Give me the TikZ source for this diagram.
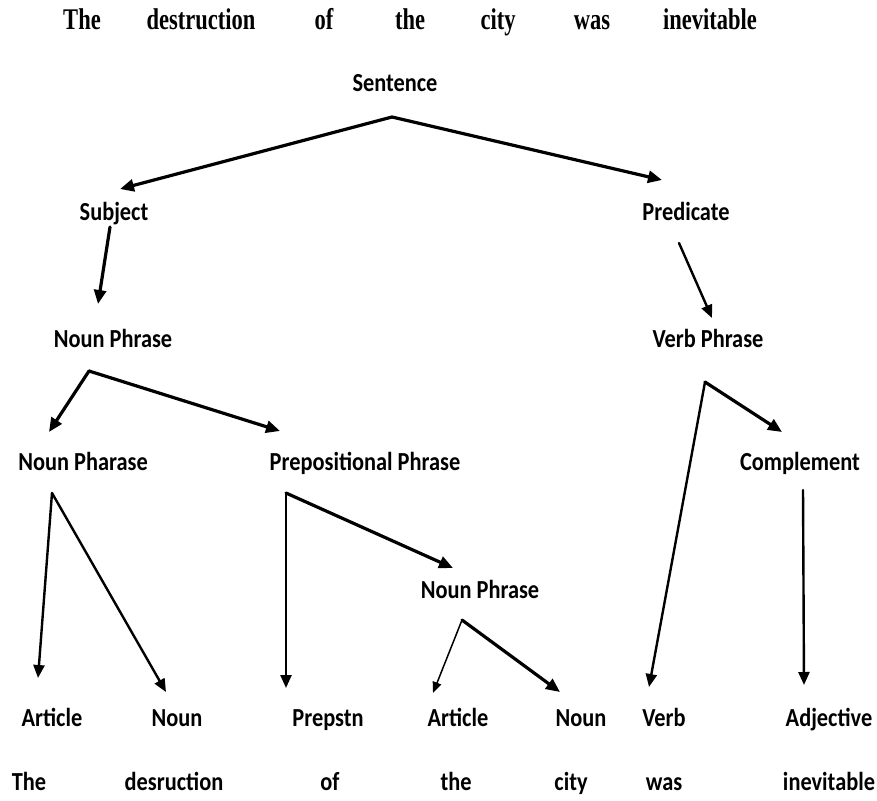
\documentclass[tikz,border=0pt]{standalone}
\usepackage{fontspec}
\newfontfamily\labfont[FakeStretch=0.86]{Carlito}
\newfontfamily\topfont[FakeStretch=0.75]{Liberation Serif}
\usetikzlibrary{arrows.meta}
\tikzset{
  lab/.style={anchor=base, inner sep=0pt, font=\labfont\bfseries\fontsize{26}{30}\selectfont},
  toplab/.style={anchor=base, inner sep=0pt, font=\topfont\bfseries\fontsize{30}{34}\selectfont},
  arr/.style={line width=3.2pt, line cap=round, -{Triangle[length=14pt,width=12pt]}},
  arrm/.style={line width=2.4pt, line cap=round, -{Triangle[length=13pt,width=11pt]}},
  arrt/.style={line width=1.5pt, line cap=round, -{Triangle[length=11pt,width=9pt]}},
}
\begin{document}
\begin{tikzpicture}[x=1pt,y=-1pt]
\useasboundingbox[fill=white] (0,0) rectangle (877,800);
% top sentence
\node[toplab] (w1) at (82,30) {The};
\node[toplab] (w2) at (201,30) {destruction};
\node[toplab] (w3) at (324,30) {of};
\node[toplab] (w4) at (410,30) {the};
\node[toplab] (w5) at (498,30) {city};
\node[toplab] (w6) at (592,30) {was};
\node[toplab] (w7) at (710,30) {inevitable};
% tree labels
\node[lab] (sent) at (395,91) {Sentence};
\node[lab] (subj) at (114,220) {Subject};
\node[lab] (pred) at (686,220) {Predicate};
\node[lab] (np) at (113,347) {Noun Phrase};
\node[lab] (vp) at (708,347) {Verb Phrase};
\node[lab] (npa) at (83,470) {Noun Pharase};
\node[lab] (pp) at (365,470) {Prepositional Phrase};
\node[lab] (comp) at (800,470) {Complement};
\node[lab] (np2) at (480,598) {Noun Phrase};
% leaves
\node[lab] (art1) at (52,726) {Article};
\node[lab] (noun1) at (177,726) {Noun};
\node[lab] (prep) at (328,726) {Prepstn};
\node[lab] (art2) at (458,726) {Article};
\node[lab] (noun2) at (581,726) {Noun};
\node[lab] (verb) at (664,726) {Verb};
\node[lab] (adj) at (829,726) {Adjective};
% words
\node[lab] (b1) at (29,790) {The};
\node[lab] (b2) at (174,790) {desruction};
\node[lab] (b3) at (330,790) {of};
\node[lab] (b4) at (456,790) {the};
\node[lab] (b5) at (571,790) {city};
\node[lab] (b6) at (664,790) {was};
\node[lab] (b7) at (829,790) {inevitable};
% connector coordinates
\coordinate (sentB) at (392,117);
\coordinate (subjT) at (120,189);
\coordinate (predT) at (662,180);
\coordinate (subjB) at (110,227);
\coordinate (npT) at (98,304);
\coordinate (predB) at (679,243);
\coordinate (vpT) at (712,318);
\coordinate (npB) at (89,371);
\coordinate (npaT) at (49,432);
\coordinate (ppT) at (280,431);
\coordinate (vpB) at (705,382);
\coordinate (verbT) at (649,687);
\coordinate (compT) at (782,432);
\coordinate (npaB) at (52,493);
\coordinate (art1T) at (38,678);
\coordinate (noun1T) at (166,692);
\coordinate (ppB) at (286,493);
\coordinate (prepT) at (286,688);
\coordinate (np2T) at (453,568);
\coordinate (np2B) at (462,620);
\coordinate (art2T) at (433,693);
\coordinate (noun2T) at (560,692);
\coordinate (compB) at (803,490);
\coordinate (adjT) at (804,685);
% connectors
\draw[arr] (sentB) -- (subjT);
\draw[arr] (sentB) -- (predT);
\draw[arr] (subjB) -- (npT);
\draw[arrm] (predB) -- (vpT);
\draw[arr] (npB) -- (npaT);
\draw[arr] (npB) -- (ppT);
\draw[arrm] (vpB) -- (verbT);
\draw[arr] (vpB) -- (compT);
\draw[arrm] (npaB) -- (art1T);
\draw[arrm] (npaB) -- (noun1T);
\draw[arrm] (ppB) -- (prepT);
\draw[arr] (ppB) -- (np2T);
\draw[arrt] (np2B) -- (art2T);
\draw[arr] (np2B) -- (noun2T);
\draw[arrm] (compB) -- (adjT);
\end{tikzpicture}
\end{document}
